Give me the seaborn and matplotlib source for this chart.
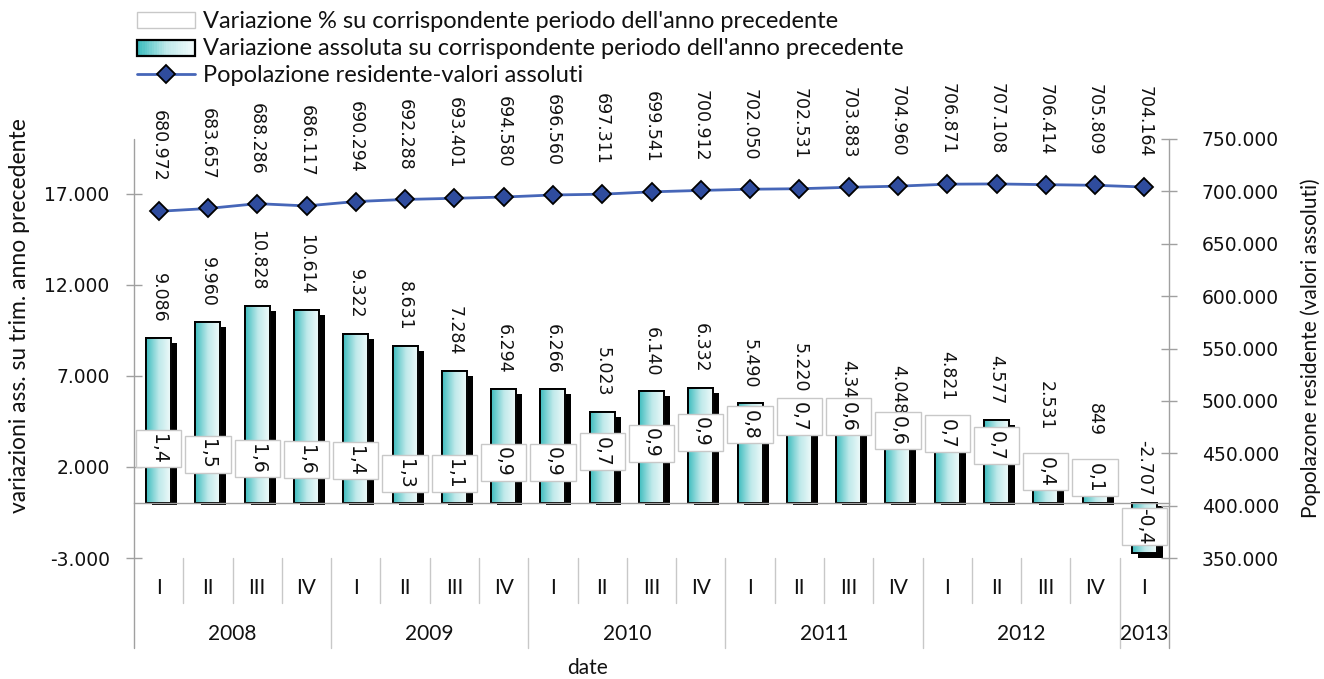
import numpy as np
import pandas as pd
import matplotlib
matplotlib.use("Agg")
import matplotlib.pyplot as plt
import seaborn as sns
from matplotlib.patches import Rectangle
from matplotlib.lines import Line2D
from matplotlib.legend_handler import HandlerBase
from matplotlib.colors import LinearSegmentedColormap
import matplotlib.transforms as mtransforms

# ---------------- data ----------------
quarters = ["I", "II", "III", "IV"] * 5 + ["I"]
years = ["2008", "2009", "2010", "2011", "2012", "2013"]
year_of = ["2008"] * 4 + ["2009"] * 4 + ["2010"] * 4 + ["2011"] * 4 + ["2012"] * 4 + ["2013"]
abs_change = [9086, 9960, 10828, 10614, 9322, 8631, 7284, 6294, 6266, 5023, 6140,
              6332, 5490, 5220, 4340, 4048, 4821, 4577, 2531, 849, -2707]
pct_change = [1.4, 1.5, 1.6, 1.6, 1.4, 1.3, 1.1, 0.9, 0.9, 0.7, 0.9,
              0.9, 0.8, 0.7, 0.6, 0.6, 0.7, 0.7, 0.4, 0.1, -0.4]
population = [680972, 683657, 688286, 686117, 690294, 692288, 693401, 694580, 696560,
              697311, 699541, 700912, 702050, 702531, 703883, 704960, 706871, 707108,
              706414, 705809, 704164]
# vertical placement of the % label boxes (left-axis units)
pct_label_pos = [3000, 2700, 2450, 2400, 2350, 1640, 1640, 2250, 2250, 2850, 3300,
                 3900, 4330, 4770, 4770, 4000, 3840, 3180, 1750, 1420, -1260]
# extra gap (points) above some value labels, as in the reference
abs_label_extra = {18: 8, 19: 26}

legend_labels = ["Variazione % su corrispondente periodo dell'anno precedente",
                 "Variazione assoluta su corrispondente periodo dell'anno precedente",
                 "Popolazione residente-valori assoluti"]
left_title = "variazioni ass. su trim. anno precedente"
right_title = "Popolazone residente (valori assoluti)"
x_title = "date"

def fmt(v):
    return f"{v:,.0f}".replace(",", ".")

def fmt_pct(v):
    return f"{v:.1f}".replace(".", ",")

# ---------------- style ----------------
sns.set_theme(style="white")
plt.rcParams["font.family"] = ["DejaVu Sans"]
label_font = "Lato"

W, H = 1324, 679
fig = plt.figure(figsize=(W / 100, H / 100), dpi=100)
L, R, T, B = 134 / W, 1169 / W, 1 - 139 / H, 1 - 558 / H
ax = fig.add_axes([L, B, R - L, T - B])
ax2 = ax.twinx()

n = len(abs_change)
YMIN, YMAX = -3000, 20000
px_x = (R - L) * W / n          # pixels per category
px_y = (T - B) * H / (YMAX - YMIN)  # pixels per unit

labels_x = [f"{y}-{q}" for y, q in zip(year_of, quarters)]
df = pd.DataFrame({"cat": labels_x, "val": abs_change})

teal = "#45C0C2"
sns.barplot(data=df, x="cat", y="val", ax=ax, color=teal, saturation=1,
            width=0.51, edgecolor="black", linewidth=1.4, errorbar=None, zorder=2)

cmap = LinearSegmentedColormap.from_list("tg", ["#3FBDBF", "#BFE9EA", "#F2FBFB"])
grad = np.linspace(0, 1, 64).reshape(1, -1)
for p in list(ax.patches):
    x0, y0 = p.get_x(), p.get_y()
    w, h = p.get_width(), p.get_height()
    ylo, yhi = min(y0, y0 + h), max(y0, y0 + h)
    # drop shadow (offset right / down)
    dx = 6 / px_x
    if h >= 0:
        s_lo, s_hi = -2 / px_y, yhi - 5 / px_y
    else:
        s_lo, s_hi = ylo - 6 / px_y, -3 / px_y
    ax.add_patch(Rectangle((x0 + dx, s_lo), w, s_hi - s_lo, facecolor="black",
                           edgecolor="none", zorder=1.9))
    im = ax.imshow(grad, extent=[x0, x0 + w, ylo, yhi], aspect="auto", cmap=cmap,
                   zorder=2.1, interpolation="bilinear")
    im.set_clip_path(p)
    ax.add_patch(Rectangle((x0, ylo), w, yhi - ylo, fill=False, edgecolor="black",
                           linewidth=1.4, zorder=2.2))
ax.set_xlim(-0.5, n - 0.5)
ax.set_ylim(YMIN, YMAX)

# line on secondary axis
xs = np.arange(n)
sns.lineplot(x=xs, y=population, ax=ax2, color="#4666B8", linewidth=2, marker="D",
             markersize=9, markerfacecolor="#2F4C9E", markeredgecolor="black",
             markeredgewidth=1.3, zorder=3)
ax2.set_ylim(350000, 750000)
ax2.set_xlim(-0.5, n - 0.5)

# ---------------- axes styling ----------------
grey = "#A0A0A0"
for s in ["top", "left", "right"]:
    ax.spines[s].set_visible(False)
    ax2.spines[s].set_visible(False)
ax2.spines["bottom"].set_visible(False)
ax.spines["bottom"].set_position(("data", 0))
ax.spines["bottom"].set_color(grey)
ax.spines["bottom"].set_linewidth(1)

ax.set_xticks(xs)
ax.set_xticklabels([])
ax.set_xticks(np.arange(0.5, n - 0.5, 1), minor=True)
ax.tick_params(axis="x", which="major", length=0)
ax.tick_params(axis="x", which="minor", direction="inout", length=8, color=grey, width=1)
ax.set_xlabel("")
ax.set_ylabel("")
ax2.set_ylabel("")

yt = [-3000, 2000, 7000, 12000, 17000]
ax.set_yticks(yt)
ax.set_yticklabels([fmt(v) for v in yt], fontsize=13.5, color="#111111")
ax.tick_params(axis="y", which="major", direction="inout", length=11, color=grey,
               width=1, pad=12, left=True)
yt2 = list(range(350000, 750001, 50000))
ax2.set_yticks(yt2)
ax2.set_yticklabels([fmt(v) for v in yt2], fontsize=13.5, color="#111111")
ax2.tick_params(axis="y", which="major", direction="inout", length=11, color=grey,
                width=1, pad=18, right=True)

# extended vertical axis lines
for xa in (0, 1):
    ax.add_line(Line2D([xa, xa], [1, -0.215], transform=ax.transAxes, color=grey,
                       linewidth=1, clip_on=False, zorder=1))

trans = mtransforms.blended_transform_factory(ax.transData, ax.transAxes)
div_col = "#C8C8C8"
for i in range(n - 1):
    xb = i + 0.5
    is_year = year_of[i] != year_of[i + 1]
    ax.add_line(Line2D([xb, xb], [0, -0.215 if is_year else -0.107], transform=trans,
                       color=div_col, linewidth=1, clip_on=False))
for i, q in enumerate(quarters):
    ax.text(i, -0.072, q, transform=trans, ha="center", va="center",
            fontsize=15, family=label_font, color="#111111")
for yname in years:
    idx = [i for i, y in enumerate(year_of) if y == yname]
    ax.text((idx[0] + idx[-1]) / 2, -0.181, yname, transform=trans, ha="center",
            va="center", fontsize=15, family=label_font, color="#111111")

# ---------------- labels ----------------
for i, v in enumerate(abs_change):
    off = (11 if v >= 0 else 5.5) + abs_label_extra.get(i, 0)
    ax.annotate(fmt(v), xy=(i, max(v, 0)), xytext=(0, off), textcoords="offset points",
                rotation=-90, ha="center", va="bottom", fontsize=12.5, color="#111111",
                zorder=4)

for i, v in enumerate(population):
    ax2.annotate(fmt(v), xy=(i, v), xytext=(0, 21), textcoords="offset points",
                 rotation=-90, ha="center", va="bottom", fontsize=12.5, color="#111111")

box_h = 37 / px_y
for i, (v, yp) in enumerate(zip(pct_change, pct_label_pos)):
    ax.add_patch(Rectangle((i - 0.46, yp - box_h / 2), 0.92, box_h, facecolor="white",
                           edgecolor="#C8C8C8", linewidth=1, zorder=5))
    ax.text(i, yp, fmt_pct(v), rotation=-90, ha="center", va="center", fontsize=13.5,
            color="#111111", zorder=6)

fig.text(20 / W, 1 - 316 / H, left_title, rotation=90, ha="center", va="center",
         fontsize=16.5, family=label_font, color="#111111")
fig.text(1311 / W, 1 - 348 / H, right_title, rotation=90, ha="center", va="center",
         fontsize=15, family=label_font, color="#111111")
fig.text(587 / W, 1 - 668 / H, x_title, ha="center", va="center",
         fontsize=15, family=label_font, color="#111111")

# ---------------- legend ----------------
class GradHandler(HandlerBase):
    def create_artists(self, legend, orig_handle, xd, yd, width, height, fontsize, trans):
        arts = []
        k = 24
        for j in range(k):
            c = cmap(j / (k - 1))
            arts.append(Rectangle((xd + width * j / k, yd), width / k + 0.3, height,
                                  facecolor=c, edgecolor="none", transform=trans))
        arts.append(Rectangle((xd, yd), width, height, fill=False, edgecolor="black",
                              linewidth=1.6, transform=trans))
        return arts

h1 = Rectangle((0, 0), 1, 1, facecolor="white", edgecolor="#C8C8C8", linewidth=1)
h2 = Rectangle((0, 0), 1, 1)
h3 = Line2D([], [], color="#4666B8", linewidth=2, marker="D", markersize=9,
            markerfacecolor="#2F4C9E", markeredgecolor="black", markeredgewidth=1.3)
leg = fig.legend([h1, h2, h3], legend_labels, loc="upper left",
                 bbox_to_anchor=(128 / W, 1 - 2 / H), frameon=False,
                 handler_map={h2: GradHandler()}, handlelength=2.45, handleheight=0.65,
                 handletextpad=0.33, labelspacing=0.25, borderaxespad=0,
                 prop={"family": label_font, "size": 17})
for t in leg.get_texts():
    t.set_color("#111111")

fig.savefig("out.png", dpi=100)
